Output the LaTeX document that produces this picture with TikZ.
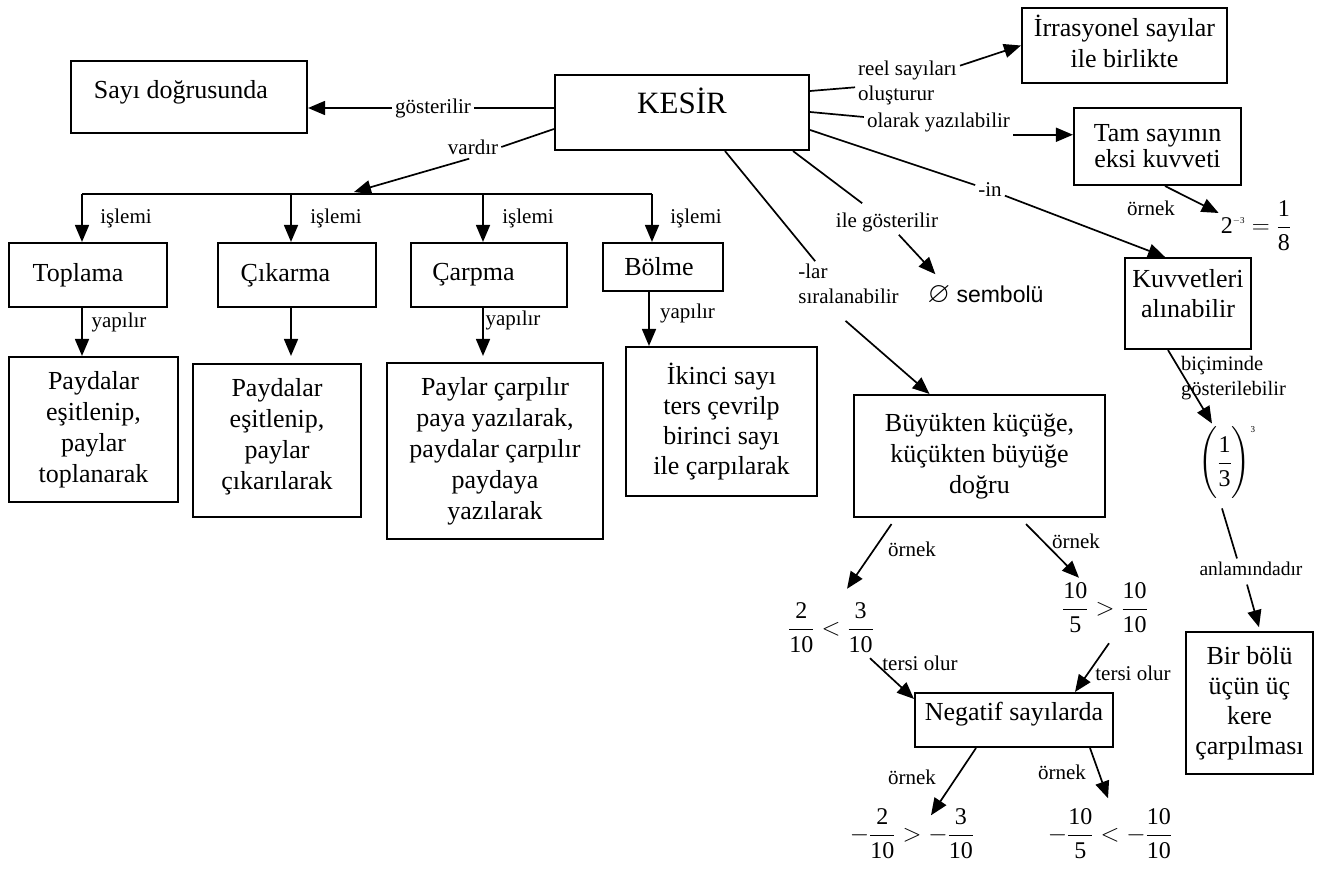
\documentclass[tikz,border=0pt]{standalone}
\usepackage{amssymb}
\usepackage{amsmath}
\usepackage{fontspec}
\setmainfont{Liberation Serif}
\newfontfamily\arialfam{Liberation Sans}
\usetikzlibrary{arrows.meta}

\newcommand\boxfont{\fontsize{26}{31}\selectfont}
\newcommand\lblfont{\fontsize{21}{24.5}\selectfont}
\newcommand\frfont{\fontsize{24}{28}\selectfont}
\newcommand\tinysup[1]{\mbox{\fontsize{9}{9}\selectfont #1}}
\newcommand\padb[1]{\rule[-#1pt]{0pt}{#1pt}}
% digits in formulas are set in the text face
\newcommand\nm[1]{\mbox{#1}}

\begin{document}
\begin{tikzpicture}[x=1pt, y=-1pt,
  box/.style={draw, line width=2.1pt, inner sep=0pt, align=center, font=\boxfont},
  lbl/.style={inner sep=3pt, font=\lblfont},
  frac/.style={inner sep=2pt, font=\frfont},
  conn/.style={line width=1.7pt},
  arr/.style={conn, -{Triangle[length=17pt,width=14pt]}}]

\fill[white] (0,0) rectangle (1332,869);
\useasboundingbox (0,0) rectangle (1332,869);

% ---- boxes ----
\node[box, minimum width=236pt, minimum height=72.6pt, text height=18pt, text depth=14pt] (sayi) at (189,97) {Sayı doğrusunda\hspace*{16pt}};
\node[box, minimum width=254pt, minimum height=75pt, text height=27pt, text depth=24pt, font=\fontsize{31}{36}\selectfont] (kesir) at (682,112.5) {KESİR};
\node[box, minimum width=205pt, minimum height=75pt] (irr) at (1124.5,45.5) {İrrasyonel sayılar\\ile birlikte\padb{8}};
\node[box, minimum width=167pt, minimum height=77pt, font=\fontsize{26}{26}\selectfont] (tam) at (1157.5,146.5) {Tam sayının\\eksi kuvveti};
\node[box, minimum width=126pt, minimum height=91pt, font=\fontsize{26}{30}\selectfont] (kuv) at (1188,303.5) {Kuvvetleri\\alınabilir\padb{21}};

\node[box, minimum width=158pt, minimum height=64pt] (top) at (88,275) {Toplama\hspace*{20pt}};
\node[box, minimum width=158pt, minimum height=64pt] (cik) at (297,275) {Çıkarma\hspace*{23pt}};
\node[box, minimum width=156pt, minimum height=64pt] (carp) at (489,275) {Çarpma\hspace*{31pt}};
\node[box, minimum width=120pt, minimum height=48pt] (bol) at (663,267) {Bölme\hspace*{8pt}};

\node[box, minimum width=169pt, minimum height=145pt] (p1) at (93.5,429.5) {Paydalar\\eşitlenip,\\paylar\\toplanarak};
\node[box, minimum width=168pt, minimum height=153pt] (p2) at (277,440.5) {Paydalar\\eşitlenip,\\paylar\\çıkarılarak\padb{14}};
\node[box, minimum width=216pt, minimum height=176pt] (p3) at (495,451) {Paylar çarpılır\\paya yazılarak,\\paydalar çarpılır\\paydaya\\yazılarak};
\node[box, minimum width=191pt, minimum height=149pt, font=\fontsize{26}{30}\selectfont] (p4) at (721.5,421.5) {İkinci sayı\\ters çevrilp\\birinci sayı\\ile çarpılarak};

\node[box, minimum width=251pt, minimum height=122pt] (buy) at (979.5,456) {Büyükten küçüğe,\\küçükten büyüğe\\doğru};
\node[box, minimum width=198pt, minimum height=54pt, text height=18pt, text depth=18pt] (neg) at (1014,720) {Negatif sayılarda};
\node[box, minimum width=127pt, minimum height=141.5pt, font=\fontsize{26}{30}\selectfont] (bir) at (1249.5,703) {Bir bölü\\üçün üç\\kere\\çarpılması};

% ---- formulas ----
\node[frac] (f1) at (831,628) {$\displaystyle\frac{\nm{2}}{\nm{10}}<\frac{\nm{3}}{\nm{10}}$};
\node[frac] (f2) at (1105,608) {$\displaystyle\frac{\nm{10}}{\nm{5}}>\frac{\nm{10}}{\nm{10}}$};
\node[frac] (n1) at (912,834) {$\displaystyle-\frac{\nm{2}}{\nm{10}}>-\frac{\nm{3}}{\nm{10}}$};
\node[frac] (n2) at (1110,834) {$\displaystyle-\frac{\nm{10}}{\nm{5}}<-\frac{\nm{10}}{\nm{10}}$};
\node[frac] (pw) at (1256,226) {$\displaystyle \nm{2}^{\tinysup{$-$3}}=\frac{\nm{1}}{\nm{8}}$};
\node[frac] (third) at (1227,463) {$\displaystyle\Biggl(\frac{\nm{1}}{\nm{3}}\Biggr)^{\tinysup{3}}$};
\node[inner sep=2pt, font=\arialfam\fontsize{23}{26}\selectfont] (emp) at (985.5,295) {{\fontsize{29}{29}\selectfont$\varnothing$} sembolü};

% ---- labels ----
\node[lbl] (gost) at (433,108) {gösterilir};
\node[lbl] (vard) at (473,147) {vardır};
\node[lbl] (is1) at (126,218) {işlemi};
\node[lbl] (is2) at (336,218) {işlemi};
\node[lbl] (is3) at (528,218) {işlemi};
\node[lbl] (is4) at (696,218) {işlemi};
\node[lbl] (yap1) at (119,322) {yapılır};
\node[lbl] (yap3) at (513,320) {yapılır};
\node[lbl] (yap4) at (687.5,313) {yapılır};
\node[lbl, align=left] (reel) at (907.5,83) {reel sayıları\\oluşturur};
\node[lbl] (olar) at (938.5,122) {olarak yazılabilir};
\node[lbl] (inl) at (990,190) {-in};
\node[lbl] (ile) at (887,222) {ile gösterilir};
\node[lbl, align=left] (lar) at (848.5,284) {-lar\\sıralanabilir};
\node[lbl] (orn1) at (1151,208) {örnek};
\node[lbl] (orn2) at (912,549) {örnek};
\node[lbl] (orn3) at (1076,541) {örnek};
\node[lbl] (orn4) at (912,777) {örnek};
\node[lbl] (orn5) at (1062,772) {örnek};
\node[lbl] (ters1) at (920,663) {tersi olur};
\node[lbl] (ters2) at (1133,673) {tersi olur};
\node[lbl, align=left, font=\fontsize{20.5}{24.5}\selectfont] (bic) at (1233.5,378) {biçiminde\\gösterilebilir};
\node[lbl, font=\fontsize{19.5}{23}\selectfont] (anl) at (1251,568.5) {anlamındadır};

% ---- branch bar for the four operations ----
\coordinate (b1) at (82,194);
\coordinate (b2) at (291,194);
\coordinate (b3) at (483,194);
\coordinate (b4) at (652,194);
\coordinate (vtip) at (354,192);
\draw[conn] (b1) -- (b4);
\draw[arr] (b1) -- (b1 |- top.north);
\draw[arr] (b2) -- (b2 |- cik.north);
\draw[arr] (b3) -- (b3 |- carp.north);
\draw[arr] (b4) -- (b4 |- bol.north);

% ---- connectors ----
\draw[conn] ([yshift=4.5pt]kesir.west) -- (gost);
\draw[arr] (gost) -- (gost -| sayi.east);
\draw[conn] ([yshift=-16.5pt]kesir.west) -- (vard.east);
\draw[arr, shorten <=4pt] (vard.south) -- (vtip);

\draw[arr] (top.south -| b1) -- (p1.north -| b1);
\draw[arr, shorten >=7pt] (cik.south -| b2) -- (p2.north -| b2);
\draw[arr, shorten >=6pt] (carp.south -| b3) -- (p3.north -| b3);
\draw[arr] ([xshift=-14pt]bol.south) -- ([xshift=-72.5pt]p4.north);

\draw[conn] ([yshift=21.5pt]kesir.east) -- (reel);
\draw[arr] (reel) -- (irr.west);
\draw[conn] ([yshift=0.5pt]kesir.east) -- ([yshift=5pt]olar.west);
\draw[arr] (olar.south east) -- (olar.south east -| tam.west);
\draw[conn] ([yshift=-17.5pt]kesir.east) -- (inl);
\draw[arr] (inl) -- ([xshift=-23pt]kuv.north);
\draw[conn, shorten >=10pt] ([xshift=111pt]kesir.south) -- (ile);
\draw[arr] (ile) -- ([xshift=10pt,yshift=9pt]emp.north west);
\draw[conn] ([xshift=43pt]kesir.south) -- ([xshift=20pt]lar.north west);
\draw[arr] ([xshift=-3pt,yshift=-14pt]lar.south) -- ([xshift=-50pt]buy.north);

\draw[arr] ([xshift=7.5pt]tam.south) -- ([yshift=13pt]pw.west);
\draw[arr] ([xshift=-20pt]kuv.south) -- ([xshift=-15pt]third.north);
\draw[conn] ([xshift=-5pt,yshift=-6pt]third.south) -- ([xshift=-14pt]anl.north);
\draw[arr] ([xshift=-4pt,yshift=-6pt]anl.south) -- ([xshift=9.5pt,yshift=4pt]bir.north);

\draw[arr] ([xshift=-88pt,yshift=-6pt]buy.south) -- ([xshift=16pt,yshift=12pt]f1.north);
\draw[arr] ([xshift=46.5pt,yshift=-6pt]buy.south) -- ([xshift=-26pt,yshift=3pt]f2.north);
\draw[arr] ([xshift=-6pt,yshift=-3pt]f1.south east) -- ([yshift=-7pt]neg.north west);
\draw[arr] ([xshift=4pt,yshift=-8pt]f2.south) -- ([xshift=61pt]neg.north);
\draw[arr] ([xshift=-38pt]neg.south) -- ([xshift=19pt,yshift=-8.5pt]n1.north);
\draw[arr] ([xshift=76pt]neg.south) -- ([xshift=-2pt,yshift=8.5pt]n2.north);
\end{tikzpicture}
\end{document}
